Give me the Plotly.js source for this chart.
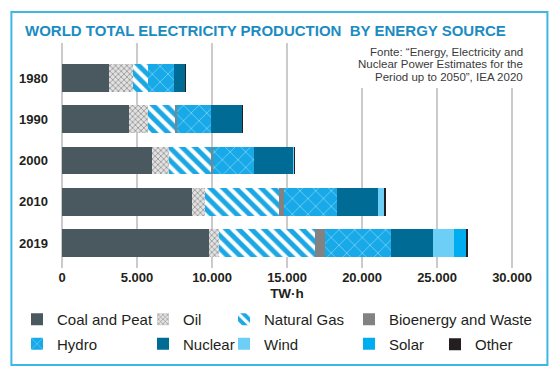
<!DOCTYPE html>
<html>
<head>
<meta charset="utf-8">
<script src="https://cdn.plot.ly/plotly-3.0.1.min.js"></script>
<style>html,body{margin:0;padding:0;background:#fff;}#chart{width:554px;height:375px;}</style>
</head>
<body>
<div id="chart"></div>
<script>
// ---- data (TW·h) ----
var years = ['1980', '1990', '2000', '2010', '2019'];
var coal = [3110, 4440, 6000, 8670, 9800];
var oil = [1620, 1270, 1130, 890, 670];
var naturalGas = [980, 1850, 2830, 4910, 6400];
var bioenergy = [0, 100, 90, 310, 660];
var hydro = [1760, 2270, 2750, 3550, 4400];
var nuclear = [750, 2090, 2620, 2740, 2800];
var wind = [0, 4, 30, 370, 1400];
var solar = [0, 0, 1, 30, 800];
var other = [40, 40, 80, 100, 140];
var xTicks = [0, 5000, 10000, 15000, 20000, 25000, 30000];
var xTickText = ['0', '5.000', '10.000', '15.000', '20.000', '25.000', '30.000'];

var SANS = '"Liberation Sans", Arial, sans-serif';

function bar(name, vals, color, legend, pattern) {
  var m = {color: color, line: {width: 0}};
  if (pattern) m.pattern = pattern;
  return {
    type: 'bar', orientation: 'h', name: name, y: years, x: vals,
    marker: m, legend: legend, legendgroup: name, hoverinfo: 'x+name'
  };
}

var traces = [
  bar('Coal and Peat', coal, '#4a5960', 'legend'),
  bar('Oil', oil, '#bdbdbd', 'legend2', {shape: 'x', fgcolor: '#8e8e8e', bgcolor: '#e2e2e2', size: 4, solidity: 0.35}),
  bar('Natural Gas', naturalGas, '#1aa7e3', 'legend3', {shape: '\\', fgcolor: '#ffffff', bgcolor: '#1aa7e3', size: 9, solidity: 0.45}),
  bar('Bioenergy and Waste', bioenergy, '#808284', 'legend4'),
  bar('Hydro', hydro, '#17a9e8', 'legend', {shape: 'x', fgcolor: '#8fd8f7', bgcolor: '#17a9e8', size: 11, solidity: 0.12}),
  bar('Nuclear', nuclear, '#006b95', 'legend2'),
  bar('Wind', wind, '#6dcff6', 'legend3'),
  bar('Solar', solar, '#00aeef', 'legend4'),
  bar('Other', other, '#231f20', 'legend5')
];

function leg(xpx, ypx) {
  return {
    xref: 'container', yref: 'container', x: xpx / 554, y: 1 - ypx / 375,
    xanchor: 'left', yanchor: 'top', orientation: 'v', bgcolor: 'rgba(0,0,0,0)',
    borderwidth: 0, tracegroupgap: 2, itemclick: false, itemdoubleclick: false,
    font: {family: SANS, size: 15, color: '#231f20'}
  };
}

var layout = {
  width: 554, height: 375,
  margin: {l: 59, r: 39, t: 43, b: 107, pad: 0, autoexpand: false},
  paper_bgcolor: '#ffffff', plot_bgcolor: '#ffffff',
  barmode: 'stack', bargap: 0.333,
  showlegend: true,
  title: {
    text: '<b>WORLD TOTAL ELECTRICITY PRODUCTION\u00a0 BY ENERGY SOURCE</b>',
    xref: 'container', yref: 'container', x: 25 / 554, xanchor: 'left',
    y: 1 - 31 / 375, yanchor: 'middle', automargin: false,
    font: {family: SANS, size: 15, color: '#1b8cc3'}
  },
  xaxis: {
    range: [-200, 30200], tickvals: xTicks, ticktext: xTickText,
    showgrid: true, gridcolor: '#cbcbcb', gridwidth: 2, zeroline: false,
    showline: false, ticks: '', fixedrange: true, automargin: false,
    tickfont: {family: SANS, size: 13, color: '#231f20', weight: 'bold'},
    title: {text: '<b>TW·h</b>', standoff: 4, font: {family: SANS, size: 13.5, color: '#231f20'}}
  },
  yaxis: {
    type: 'category', categoryorder: 'array', categoryarray: years,
    range: [4.606, -0.848], showgrid: false, zeroline: false, showline: false,
    ticks: '', ticklabelstandoff: 10, fixedrange: true, automargin: false,
    tickfont: {family: SANS, size: 13, color: '#231f20', weight: 'bold'}
  },
  legend: leg(17, 303),
  legend2: leg(143, 303),
  legend3: leg(224, 303),
  legend4: leg(349, 303),
  legend5: leg(435, 328),
  shapes: [
    {type: 'rect', xref: 'paper', yref: 'paper', layer: 'below',
     x0: -0.1044, x1: 1.0711, y0: -0.431, y1: 1.138,
     line: {color: '#3fb6e8', width: 2}, fillcolor: 'rgba(0,0,0,0)'},
    {type: 'rect', xref: 'paper', yref: 'paper', layer: 'above',
     x0: 0.62, x1: 1.04, y0: 0.8, y1: 1.0,
     line: {width: 0}, fillcolor: '#ffffff'}
  ],
  annotations: [
    {xref: 'paper', yref: 'paper', x: 1.0222, y: (268 - 51.7) / 225, xanchor: 'right', yanchor: 'middle',
     text: 'Fonte: \u201cEnergy, Electricity and', showarrow: false, font: {family: SANS, size: 11.5, color: '#3a3a3a'}},
    {xref: 'paper', yref: 'paper', x: 1.0222, y: (268 - 64.5) / 225, xanchor: 'right', yanchor: 'middle',
     text: 'Nuclear Power Estimates for the', showarrow: false, font: {family: SANS, size: 11.5, color: '#3a3a3a'}},
    {xref: 'paper', yref: 'paper', x: 1.0222, y: (268 - 77.3) / 225, xanchor: 'right', yanchor: 'middle',
     text: 'Period up to 2050\u201d, IEA 2020', showarrow: false, font: {family: SANS, size: 11.5, color: '#3a3a3a'}}
  ]
};

Plotly.newPlot('chart', traces, layout, {displayModeBar: false, staticPlot: true});
</script>
</body>
</html>
